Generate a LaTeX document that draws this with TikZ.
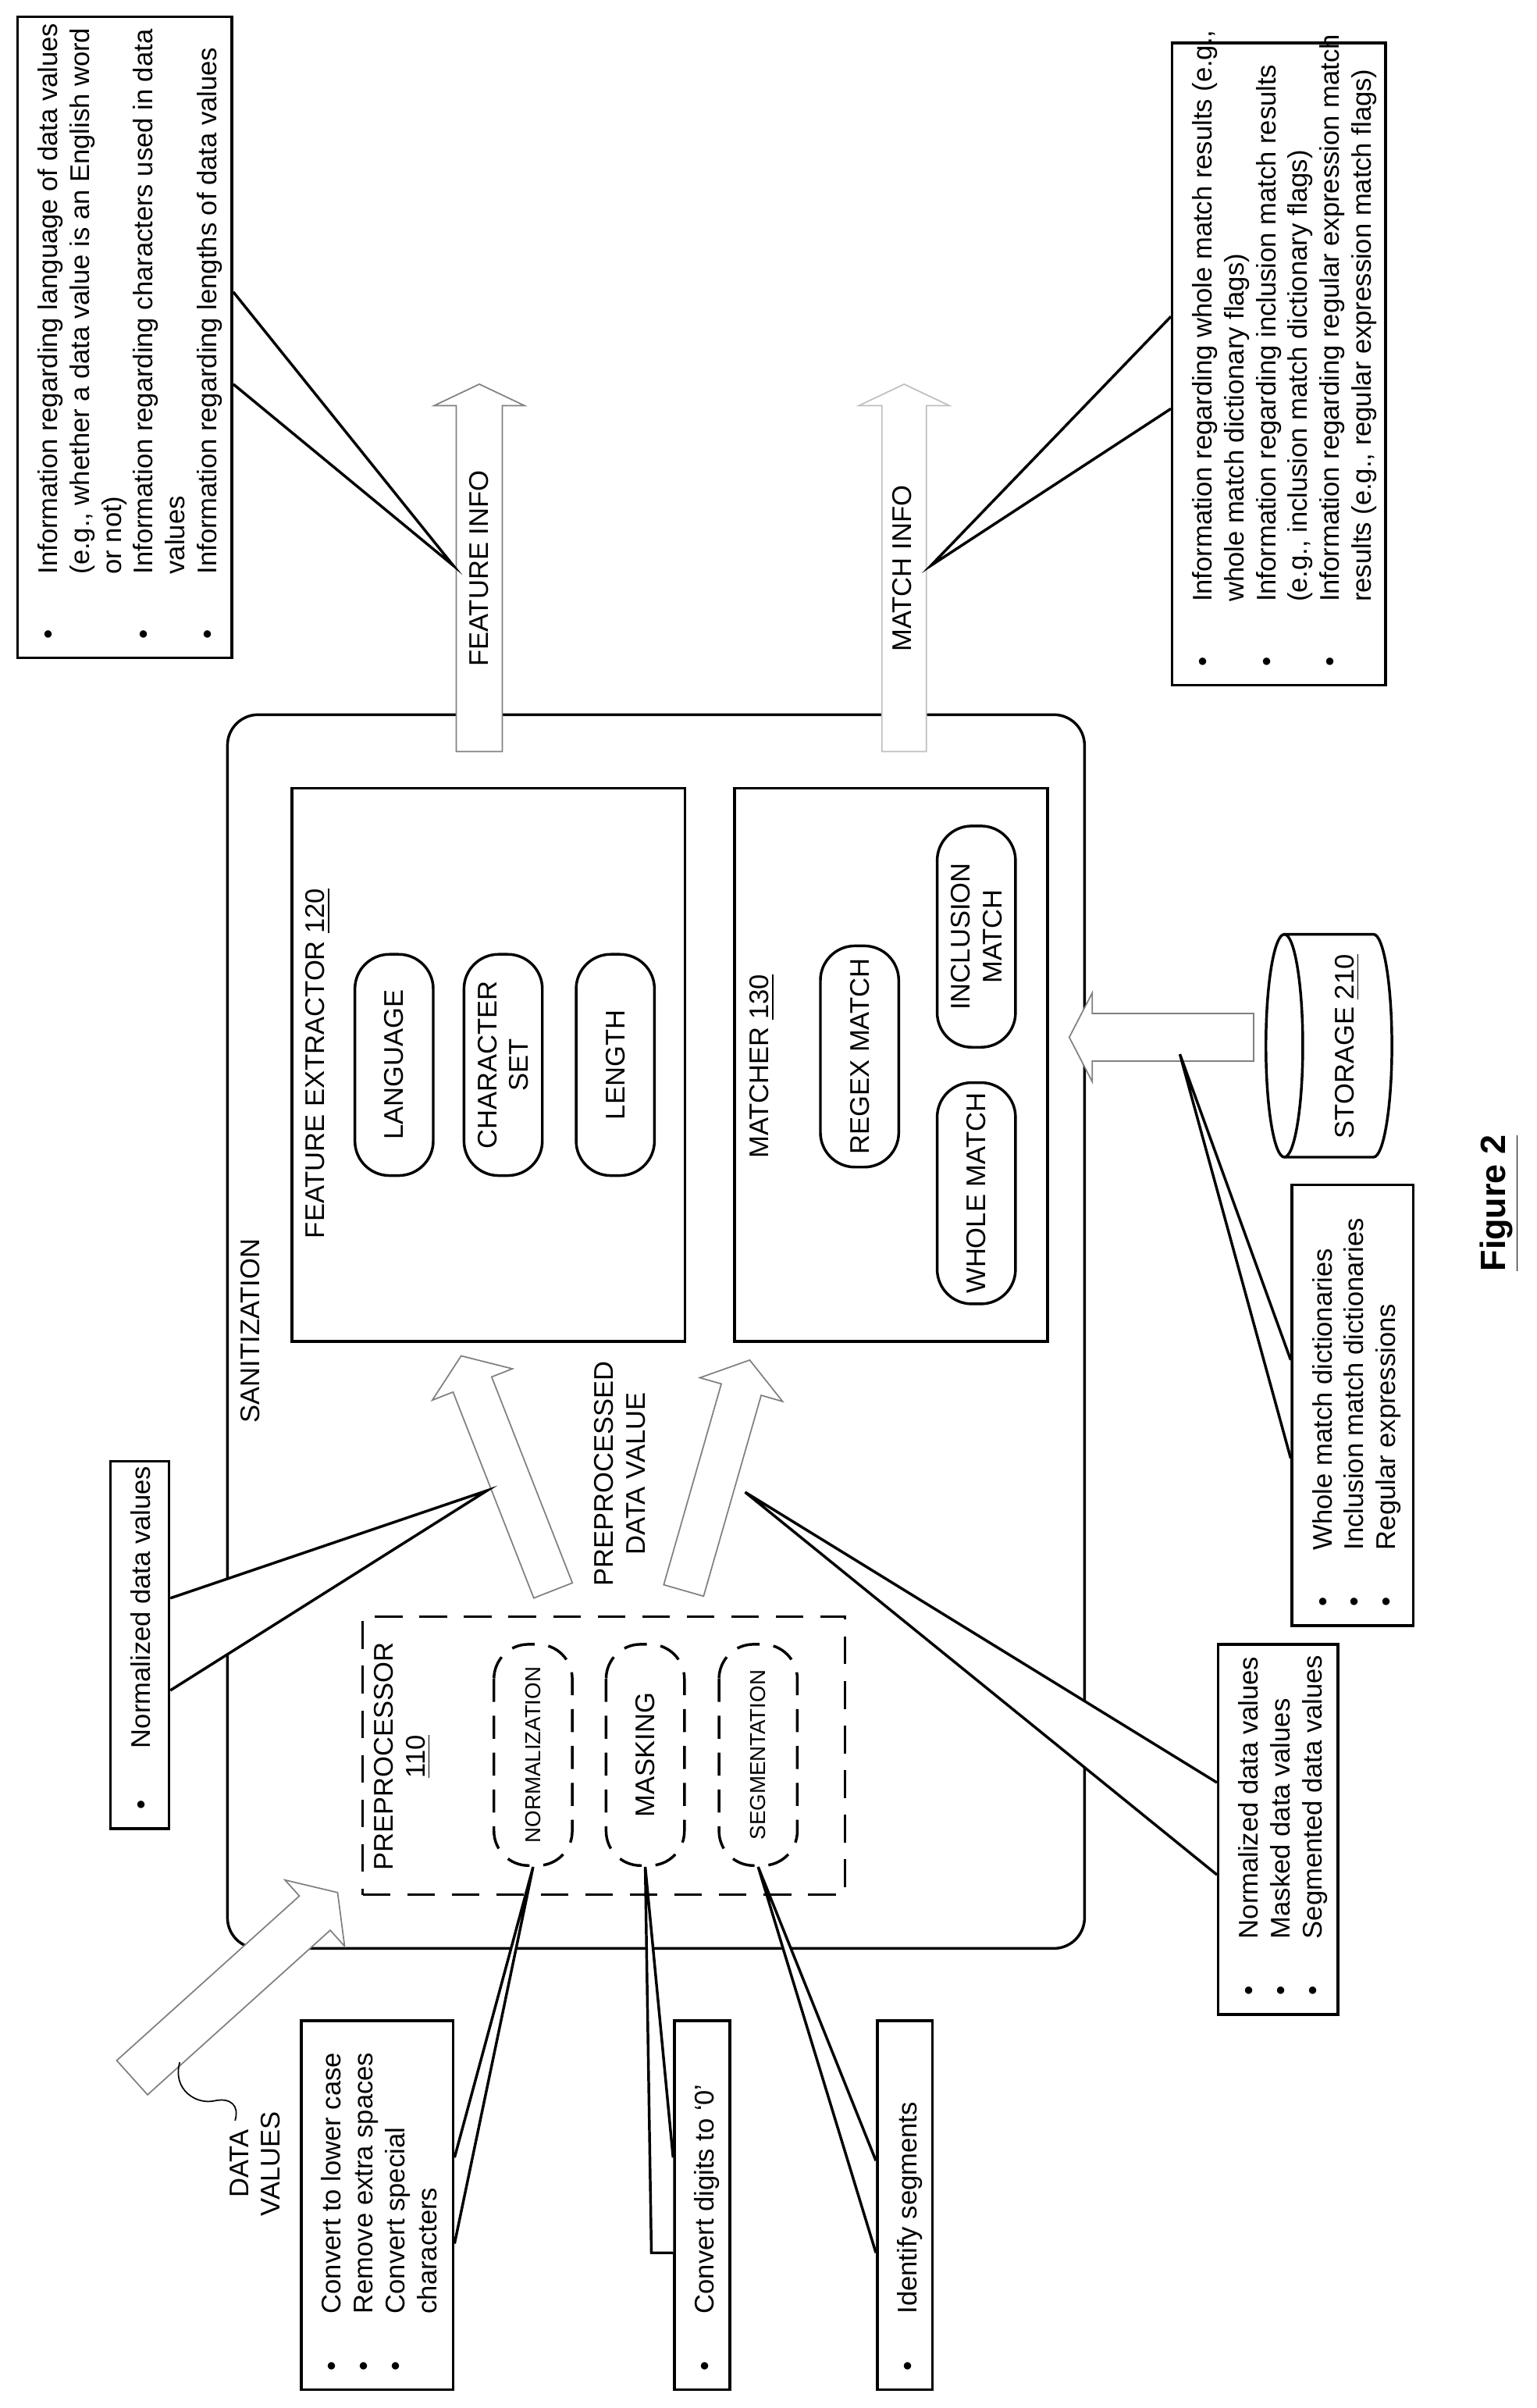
\documentclass[tikz,border=0pt]{standalone}
\usepackage{fontspec}
\setmainfont{Liberation Sans}
\usetikzlibrary{calc}
\newcommand\listfont{\fontsize{10}{11.8}\selectfont}
\newcommand\hollowarrow[7][arrow outline]{%
	\filldraw[#1, shift={#2}, rotate=#3] (0,-#5) -- ({#4-#7},-#5) -- ({#4-#7},-#6) -- (#4,0) -- ({#4-#7},#6) -- ({#4-#7},#5) -- (0,#5) -- cycle;}
\begin{document}
\begin{tikzpicture}[
	x=0.02cm, y=-0.02cm,
	box/.style={
		rectangle,
		draw=black,
		line width=1pt,
		inner sep=0pt
	},
	callout/.style={
		box,
		fill=white
	},
	blist/.style={
		rotate=90,
		anchor=north west,
		inner sep=0pt,
		align=left,
		font=\listfont
	},
	pill/.style={
		rectangle,
		draw=black,
		line width=1pt,
		rotate=90,
		rounded corners=0.45cm,
		align=center,
		font=\listfont,
		minimum width=2.88cm,
		minimum height=1.02cm,
		inner sep=0pt
	},
	dashpill/.style={
		pill,
		dash pattern=on 0.3cm off 0.18cm,
		font=\fontsize{8}{9.5}\selectfont
	},
	label/.style={
		rotate=90,
		align=center,
		inner sep=0pt,
		font=\listfont
	},
	pointer/.style={
		draw=black,
		line width=1pt,
		fill=white
	},
	arrow outline/.style={
		draw=gray,
		line width=0.5pt,
		fill=white
	},
]
\useasboundingbox (0,0) rectangle (1000,1567);

% main frame
\node[box, rounded corners=0.4cm, minimum width=11.16cm, minimum height=16.06cm] (san) at (427,866.5) {};
\node[label] (sanlbl) at (163,866) {SANITIZATION};

% feature extractor
\node[box, minimum width=5.12cm, minimum height=7.2cm] (fe) at (318,693) {};
\node[label] (felbl) at (207,692) {FEATURE EXTRACTOR \underline{120}};
\node[pill] (lang) at (256.5,693) {LANGUAGE};
\node[pill] (charset) at (327.5,693) {CHARACTER\\SET};
\node[pill] (len) at (400.5,693) {LENGTH};

% matcher
\node[box, minimum width=4.08cm, minimum height=7.2cm] (match) at (580,693) {};
\node[label] (matchlbl) at (496,694) {MATCHER \underline{130}};
\node[pill] (regex) at (559.5,687.5) {REGEX MATCH};
\node[pill] (incl) at (635.5,609.5) {INCLUSION\\MATCH};
\node[pill] (whole) at (635.5,776.5) {WHOLE MATCH};

% preprocessor
\node[box, dash pattern=on 0.36cm off 0.22cm, minimum width=6.28cm, minimum height=3.62cm] (pre) at (393,1142.5) {};
\node[label] (prelbl) at (262,1143) {PREPROCESSOR\\\underline{110}};
\node[dashpill] (norm) at (347,1142) {NORMALIZATION};
\node[dashpill, font=\listfont] (mask) at (420,1142) {MASKING};
\node[dashpill] (seg) at (493.5,1142) {SEGMENTATION};
\node[label] (ppv) at (403.5,959) {PREPROCESSED\\DATA VALUE};

% storage
\filldraw[box, fill=white] (836,608) -- (894,608) arc[start angle=-90, end angle=90, x radius=12, y radius=72.5] -- (836,753);
\draw[box] (836,680.5) ellipse[x radius=12, y radius=72.5];
\node[label] (store) at (877,681) {STORAGE \underline{210}};

% hollow arrows
\hollowarrow{(312,489)}{90}{239}{15}{29.5}{14}
\hollowarrow[arrow outline, draw=gray!50]{(588.5,489)}{90}{239}{14.5}{29.5}{14}
\hollowarrow{(360,1035)}{111.4}{164}{13.5}{28}{20}
\hollowarrow{(445,1035)}{74}{156}{13.5}{28}{20}
\hollowarrow{(86,1352)}{42}{180}{15}{29}{20}
\hollowarrow{(816,675)}{180}{120}{15.5}{29}{15}
\node[label] (fi) at (312,370) {FEATURE INFO};
\node[label] (mi) at (587,370) {MATCH INFO};

% data values label
\node[label] (dv) at (166,1408) {DATA\\VALUES};
\draw[line width=0.5pt] (117,1342) .. controls (112,1360) and (128,1370) .. (140,1367) .. controls (150,1365) and (156,1370) .. (153,1380);

% callouts
\node[callout, minimum width=2.79cm, minimum height=8.34cm] (fibox) at (81.25,219.5) {};
\node[callout, minimum width=2.78cm, minimum height=8.36cm] (mibox) at (832.5,237) {};
\node[callout, minimum width=0.76cm, minimum height=4.78cm] (nbox) at (91,1070.5) {};
\node[callout, minimum width=1.98cm, minimum height=4.8cm] (convbox) at (245.5,1435) {};
\node[callout, minimum width=0.72cm, minimum height=4.8cm] (digbox) at (457,1435) {};
\node[callout, minimum width=0.72cm, minimum height=4.8cm] (segbox) at (589,1435) {};
\node[callout, minimum width=1.56cm, minimum height=4.82cm] (pvbox) at (832,1190.5) {};
\node[callout, minimum width=1.58cm, minimum height=5.74cm] (dictbox) at (880.5,914.5) {};

\filldraw[pointer] (fibox.east |- 0,190) -- (295,368) -- (fibox.east |- 0,250);
\filldraw[pointer] (mibox.west |- 0,206) -- (606,368) -- (mibox.west |- 0,266);
\filldraw[pointer] (nbox.east |- 0,1040) -- (317,970) -- (nbox.east |- 0,1100);
\filldraw[pointer] (convbox.east |- 0,1404) -- (norm.west) -- (convbox.east |- 0,1460);
\filldraw[pointer] (digbox.west |- 0,1404) -- (mask.west) -- (424,1466) -- (digbox.west |- 0,1466);
\filldraw[pointer] (segbox.west |- 0,1406) -- (seg.west) -- (segbox.west |- 0,1466);
\filldraw[pointer] (pvbox.west |- 0,1160) -- (485,971) -- (pvbox.west |- 0,1220);
\filldraw[pointer] (dictbox.west |- 0,885) -- (768,686) -- (dictbox.west |- 0,949);

\node[blist] (fitext) at (22.5,416) {\begin{tabular}{@{}p{0.84cm}@{}l@{}}
\textbullet & Information regarding language of data values\\
 & (e.g., whether a data value is an English word\\
 & or not)\\
\textbullet & Information regarding characters used in data\\
 & values\\
\textbullet & Information regarding lengths of data values
\end{tabular}};
\node[blist] (mitext) at (774,434) {\begin{tabular}{@{}p{0.84cm}@{}l@{}}
\textbullet & Information regarding whole match results (e.g.,\\
 & whole match dictionary flags)\\
\textbullet & Information regarding inclusion match results\\
 & (e.g., inclusion match dictionary flags)\\
\textbullet & Information regarding regular expression match\\
 & results (e.g., regular expression match flags)
\end{tabular}};
\node[blist] (ntext) at (83,1178) {\begin{tabular}{@{}p{0.8cm}@{}l@{}}
\textbullet & Normalized data values
\end{tabular}};
\node[blist] (convtext) at (207,1543) {\begin{tabular}{@{}p{0.74cm}@{}l@{}}
\textbullet & Convert to lower case\\
\textbullet & Remove extra spaces\\
\textbullet & Convert special\\
 & characters
\end{tabular}};
\node[blist] (digtext) at (450,1543) {\begin{tabular}{@{}p{0.74cm}@{}l@{}}
\textbullet & Convert digits to ‘0’
\end{tabular}};
\node[blist] (segtext) at (582,1543) {\begin{tabular}{@{}p{0.74cm}@{}l@{}}
\textbullet & Identify segments
\end{tabular}};
\node[blist] (pvtext) at (804,1299) {\begin{tabular}{@{}p{0.74cm}@{}l@{}}
\textbullet & Normalized data values\\
\textbullet & Masked data values\\
\textbullet & Segmented data values
\end{tabular}};
\node[blist] (dicttext) at (852,1046) {\begin{tabular}{@{}p{0.74cm}@{}l@{}}
\textbullet & Whole match dictionaries\\
\textbullet & Inclusion match dictionaries\\
\textbullet & Regular expressions
\end{tabular}};

\node[label, font=\fontsize{13}{15}\selectfont\bfseries] (fig) at (976,783) {\underline{Figure 2}};
\end{tikzpicture}
\end{document}
